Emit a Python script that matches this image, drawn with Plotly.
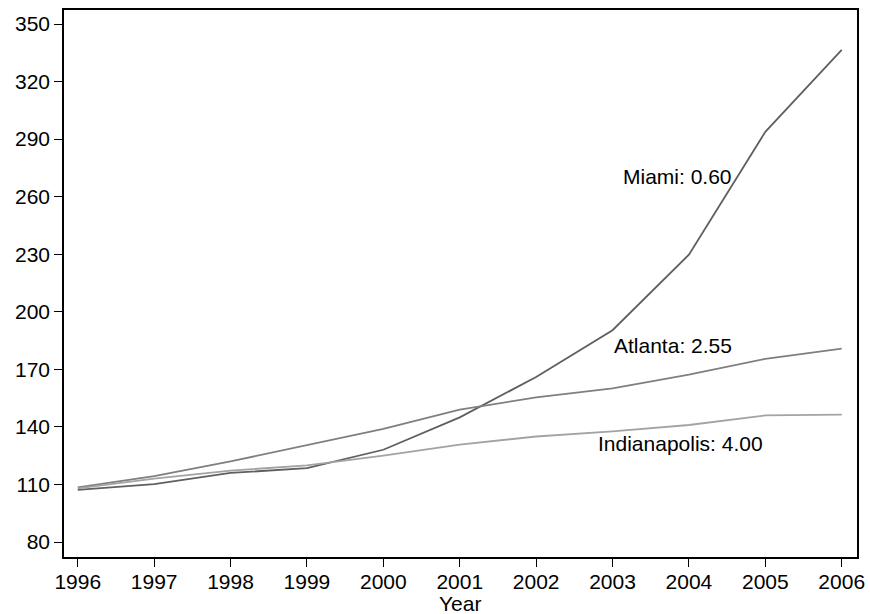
import plotly.graph_objects as go

# House price index by city, 1996-2006
years = [1996, 1997, 1998, 1999, 2000, 2001, 2002, 2003, 2004, 2005, 2006]
miami = [107.2, 110.2, 116.0, 118.5, 128.1, 145.0, 166.0, 190.4, 229.8, 293.8, 336.5]
atlanta = [108.5, 114.4, 122.0, 130.5, 139.0, 149.0, 155.4, 160.1, 167.3, 175.5, 180.8]
indianapolis = [108.0, 113.0, 117.2, 120.0, 125.0, 130.8, 135.0, 137.7, 141.0, 146.0, 146.4]

# Annotation text and anchor positions (year, value)
labels = ["Miami: 0.60", "Atlanta: 2.55", "Indianapolis: 4.00"]
label_x = [2003.11, 2002.99, 2002.78]
label_y = [270.3, 182.3, 131.3]

y_ticks = [80, 110, 140, 170, 200, 230, 260, 290, 320, 350]

FONT = "Liberation Sans, Arial, sans-serif"
FS = 21

fig = go.Figure()
series = [
    (miami, "#5f5f5f"),
    (atlanta, "#7f7f7f"),
    (indianapolis, "#a3a3a3"),
]
for vals, col in series:
    fig.add_trace(go.Scatter(
        x=years, y=vals, mode="lines",
        line=dict(color=col, width=1.8),
        showlegend=False, hoverinfo="skip",
    ))

for txt, lx, ly in zip(labels, label_x, label_y):
    fig.add_annotation(
        x=lx, y=ly, text=txt, showarrow=False,
        xanchor="left", yanchor="middle",
        font=dict(family=FONT, size=FS, color="black"),
    )

# x-axis title placed just below the tick labels
fig.add_annotation(
    x=2001, xref="x", y=-0.085, yref="paper", text="Year", showarrow=False,
    xanchor="center", yanchor="middle",
    font=dict(family=FONT, size=FS, color="black"),
)

fig.update_layout(
    width=870, height=614,
    margin=dict(l=64, r=13, t=10, b=57),
    paper_bgcolor="white", plot_bgcolor="white",
    font=dict(family=FONT, size=FS, color="black"),
)
fig.update_xaxes(
    range=[1995.82, 2006.2], automargin=False,
    tickmode="array", tickvals=years, ticktext=[str(y) for y in years],
    showgrid=False, zeroline=False,
    showline=True, linecolor="black", linewidth=1.6, mirror=True,
    ticks="outside", ticklen=8, tickwidth=1.3, tickcolor="black",
    ticklabelstandoff=-3,
)
fig.update_yaxes(
    range=[72.2, 357.3], automargin=False,
    tickmode="array", tickvals=y_ticks,
    showgrid=False, zeroline=False,
    showline=True, linecolor="black", linewidth=1.6, mirror=True,
    ticks="outside", ticklen=8, tickwidth=1.3, tickcolor="black",
)

fig.write_html("out.html")
